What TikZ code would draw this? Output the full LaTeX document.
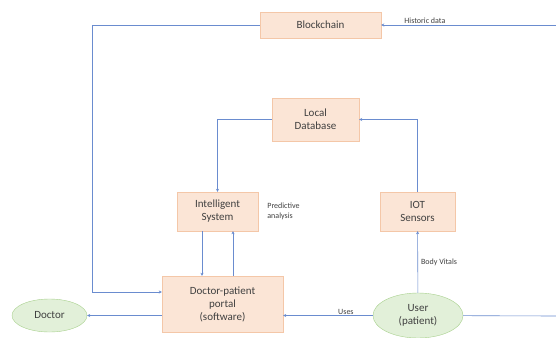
\documentclass[tikz,border=0pt]{standalone}
\usepackage{fontspec}
\setmainfont{Carlito}
\usetikzlibrary{
    arrows.meta,
    positioning,
    shapes.geometric,
    calc
}
\definecolor{boxfill}{HTML}{FBE5D6}
\definecolor{boxline}{HTML}{F4C7A8}
\definecolor{ovalfill}{HTML}{E2F0D9}
\definecolor{ovalline}{HTML}{A9D18E}
\definecolor{linkblue}{HTML}{6A8CCF}
\definecolor{textgray}{HTML}{404040}
\tikzset{
    % Nodes
    box/.style={rectangle,fill=boxfill,draw=boxline,thin,align=center,text=textgray,font=\fontsize{11}{13}\selectfont,inner sep=1pt},
    oval/.style={ellipse,fill=ovalfill,draw=ovalline,thin,align=center,text=textgray,font=\fontsize{11}{13}\selectfont,inner sep=0pt},
    lbl/.style={text=textgray,font=\fontsize{8}{10}\selectfont,inner sep=1pt},
    %
    % Arrows
    arrow tip/.tip={Stealth[length=3pt,width=3pt]},
    link/.style={draw=linkblue,line width=0.6pt},
    arr/.style={link,->,>={arrow tip}}
}

\begin{document}
\begin{tikzpicture}[x=1pt,y=-1pt]
        \useasboundingbox[fill=white] (0,0) rectangle (556,337);

        \node[box,minimum width=121pt,minimum height=26pt] (blockchain) at (320.5,25) {Blockchain};
        \node[box,minimum width=87pt,minimum height=43pt] (localdb) at (315.5,119.5) {Local\\Database};
        \node[box,minimum width=81pt,minimum height=39pt] (intel) at (217.5,211.5) {Intelligent\\System};
        \node[box,minimum width=75pt,minimum height=39pt] (iot) at (417.5,211.5) {IOT\\Sensors};
        \node[box,minimum width=121pt,minimum height=56pt] (portal) at (222.5,304) {Doctor-patient\\portal\\(software)};
        \node[oval,minimum width=75pt,minimum height=33pt] (doctor) at (49.5,315.5) {Doctor};
        \node[oval,minimum width=90pt,minimum height=45pt] (user) at (418,315.5) {User\\(patient)};
        \node[lbl,align=left,right=8pt of intel] (predict) {Predictive\\analysis};

        \coordinate (histin) at (556,25);
        \coordinate (userout) at (556,316);
        \coordinate (leftrail) at (92,292);

        % data flows
        \draw[arr] (histin) -- node[lbl,above,pos=.75] (histlbl) {Historic data} (blockchain);
        \draw[arr] (blockchain.west) -| (leftrail) -- (portal.west |- leftrail);
        \draw[arr] (localdb.west) -| (intel.north);
        \draw[arr] (iot.north) |- (localdb.east);
        \draw[arr] ([xshift=-15.5pt]intel.south) -- ([xshift=-15.5pt]intel.south |- portal.north);
        \draw[arr] ([xshift=15.5pt]intel.south |- portal.north) -- ([xshift=15.5pt]intel.south);
        \draw[arr] (portal.west |- doctor) -- (doctor);
        \draw[arr] (user) -- node[lbl,above,pos=.3] (useslbl) {Uses} (portal.east |- user);
        \draw[link] (user) -- (userout);
        \draw[arr] (user) -- node[lbl,right=2pt] (vitalslbl) {Body Vitals} (iot);
    \end{tikzpicture}
\end{document}
